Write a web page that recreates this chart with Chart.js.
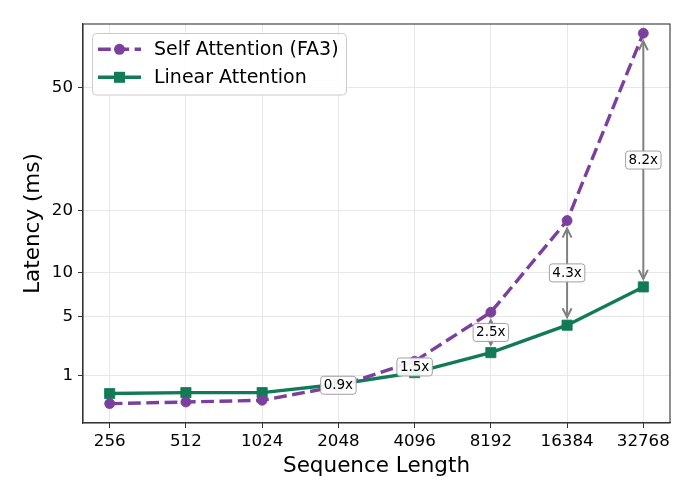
<!DOCTYPE html>
<html><head><meta charset="utf-8">
<script src="https://cdn.jsdelivr.net/npm/chart.js@4"></script>
<style>html,body{margin:0;padding:0;background:#fff;} #wrap{width:696px;height:501px;}</style>
</head><body><div id="wrap"><canvas id="c" width="696" height="501"></canvas></div>
<script>
const categories = ['256','512','1024','2048','4096','8192','16384','32768'];
const selfAttention = [0.167, 0.196, 0.229, 0.60, 1.69, 5.45, 18.2, 67.5];
const linearAttention = [0.385, 0.41, 0.41, 0.666, 1.128, 2.2, 4.25, 8.23];
const speedupLabels = ['', '', '', '0.9x', '1.5x', '2.5x', '4.3x', '8.2x'];
const yTickValues = [1, 5, 10, 20, 50];
const yTickLabels = ['1', '5', '10', '20', '50'];
const seriesNames = ['Self Attention (FA3)', 'Linear Attention'];

const PURPLE = '#7B3F9E';
const GREEN = '#117A57';
const FONT = '"DejaVu Sans", sans-serif';
Chart.defaults.font.family = FONT;
Chart.defaults.color = '#000';

const toPts = arr => arr.map((v, i) => ({x: i, y: Math.sqrt(v)}));

const framePlugin = {
  id: 'frame',
  beforeDatasetsDraw(chart) {
    const {ctx, chartArea: a} = chart;
    ctx.save();
    ctx.strokeStyle = '#333';
    ctx.lineWidth = 1.1;
    ctx.strokeRect(a.left, a.top, a.right - a.left, a.bottom - a.top);
    ctx.restore();
  }
};

const annotPlugin = {
  id: 'annot',
  afterDatasetsDraw(chart) {
    const {ctx, scales: {x, y}} = chart;
    ctx.save();
    speedupLabels.forEach((lab, i) => {
      if (!lab) return;
      const px = x.getPixelForValue(i);
      const ya = y.getPixelForValue(Math.sqrt(selfAttention[i]));
      const yb = y.getPixelForValue(Math.sqrt(linearAttention[i]));
      const d = Math.sign(yb - ya) || 1;
      const shrink = 8;
      const s = ya + d * shrink, e = yb - d * shrink;
      const dir = Math.sign(e - s) || 1;
      ctx.strokeStyle = '#808080';
      ctx.lineWidth = 2;
      ctx.lineJoin = 'miter';
      ctx.beginPath(); ctx.moveTo(px, s); ctx.lineTo(px, e); ctx.stroke();
      const hl = 9, hw = 4.5;
      ctx.beginPath();
      ctx.moveTo(px - hw, s + dir * hl); ctx.lineTo(px, s); ctx.lineTo(px + hw, s + dir * hl);
      ctx.moveTo(px - hw, e - dir * hl); ctx.lineTo(px, e); ctx.lineTo(px + hw, e - dir * hl);
      ctx.stroke();
      const my = (ya + yb) / 2;
      ctx.font = '13.5px ' + FONT;
      const tw = ctx.measureText(lab).width;
      const bw = tw + 6, bh = 18;
      ctx.beginPath();
      ctx.roundRect(px - bw / 2, my - bh / 2, bw, bh, 3);
      ctx.fillStyle = 'rgba(255,255,255,0.92)';
      ctx.fill();
      ctx.strokeStyle = '#a0a0a0';
      ctx.lineWidth = 1;
      ctx.stroke();
      ctx.fillStyle = '#000';
      ctx.textAlign = 'center';
      ctx.textBaseline = 'middle';
      ctx.fillText(lab, px, my + 0.5);
    });
    ctx.restore();
  }
};

const legendPlugin = {
  id: 'customLegend',
  afterDraw(chart) {
    const {ctx} = chart;
    ctx.save();
    ctx.beginPath();
    ctx.roundRect(92.5, 33.5, 254, 61.5, 4);
    ctx.fillStyle = 'rgba(255,255,255,0.85)';
    ctx.fill();
    ctx.strokeStyle = '#cccccc';
    ctx.lineWidth = 1;
    ctx.stroke();
    const rows = [49.3, 77.3];
    ctx.strokeStyle = PURPLE; ctx.lineWidth = 3.4;
    ctx.setLineDash([12.8, 5.5]);
    ctx.beginPath(); ctx.moveTo(98, rows[0]); ctx.lineTo(141, rows[0]); ctx.stroke();
    ctx.setLineDash([]);
    ctx.fillStyle = PURPLE;
    ctx.beginPath(); ctx.arc(119.5, rows[0], 5.5, 0, Math.PI * 2); ctx.fill();
    ctx.strokeStyle = GREEN; ctx.lineWidth = 3.4;
    ctx.beginPath(); ctx.moveTo(98, rows[1]); ctx.lineTo(141, rows[1]); ctx.stroke();
    ctx.fillStyle = GREEN;
    ctx.fillRect(119.5 - 5.5, rows[1] - 5.5, 11, 11);
    ctx.fillStyle = '#000';
    ctx.font = '19px ' + FONT;
    ctx.textAlign = 'left';
    ctx.textBaseline = 'middle';
    ctx.fillText(seriesNames[0], 154, 49.6);
    ctx.fillText(seriesNames[1], 154, 77.6);
    ctx.restore();
  }
};

new Chart(document.getElementById('c'), {
  type: 'line',
  data: {
    datasets: [
      {
        label: seriesNames[0],
        data: toPts(selfAttention),
        borderColor: PURPLE,
        backgroundColor: PURPLE,
        borderWidth: 3.4,
        borderDash: [12.8, 5.5],
        pointStyle: 'circle',
        pointRadius: 5,
        pointBorderWidth: 0.8,
        pointBackgroundColor: PURPLE,
        pointBorderColor: PURPLE,
        tension: 0,
        clip: false
      },
      {
        label: seriesNames[1],
        data: toPts(linearAttention),
        borderColor: GREEN,
        backgroundColor: GREEN,
        borderWidth: 3.4,
        pointStyle: 'rect',
        pointRadius: 7.2,
        pointBorderWidth: 0.8,
        pointBackgroundColor: GREEN,
        pointBorderColor: GREEN,
        tension: 0,
        clip: false
      }
    ]
  },
  options: {
    responsive: false,
    devicePixelRatio: 1,
    animation: false,
    events: [],
    layout: {padding: {top: 24, right: 26, left: 0, bottom: 0}},
    plugins: {legend: {display: false}, tooltip: {enabled: false}},
    scales: {
      x: {
        type: 'linear',
        min: -0.35,
        max: 7.35,
        afterFit(scale) { scale.height = 78; },
        afterBuildTicks(scale) { scale.ticks = categories.map((c, i) => ({value: i})); },
        ticks: {
          callback: (v, i) => categories[i],
          font: {size: 16.67},
          color: '#000',
          padding: 4,
          maxRotation: 0,
          autoSkip: false
        },
        grid: {color: '#e7e7e7', lineWidth: 1, tickLength: 5, tickColor: '#333', tickWidth: 1},
        border: {display: true, color: '#333', width: 1.1},
        title: {display: true, text: 'Sequence Length', font: {size: 21.5}, color: '#000', padding: {top: 0, bottom: 22}}
      },
      y: {
        type: 'linear',
        min: 0,
        max: 8.41,
        afterFit(scale) { scale.width = 83; },
        afterBuildTicks(scale) { scale.ticks = yTickValues.map(v => ({value: Math.sqrt(v)})); },
        ticks: {
          callback: (v, i) => yTickLabels[i],
          font: {size: 16.67},
          color: '#000',
          padding: 5,
          autoSkip: false
        },
        grid: {color: '#e7e7e7', lineWidth: 1, tickLength: 5, tickColor: '#333', tickWidth: 1},
        border: {display: true, color: '#333', width: 1.1},
        title: {display: true, text: 'Latency (ms)', font: {size: 21.5}, color: '#000', padding: {top: 21, bottom: 0}}
      }
    }
  },
  plugins: [framePlugin, annotPlugin, legendPlugin]
});
</script>
</body></html>
